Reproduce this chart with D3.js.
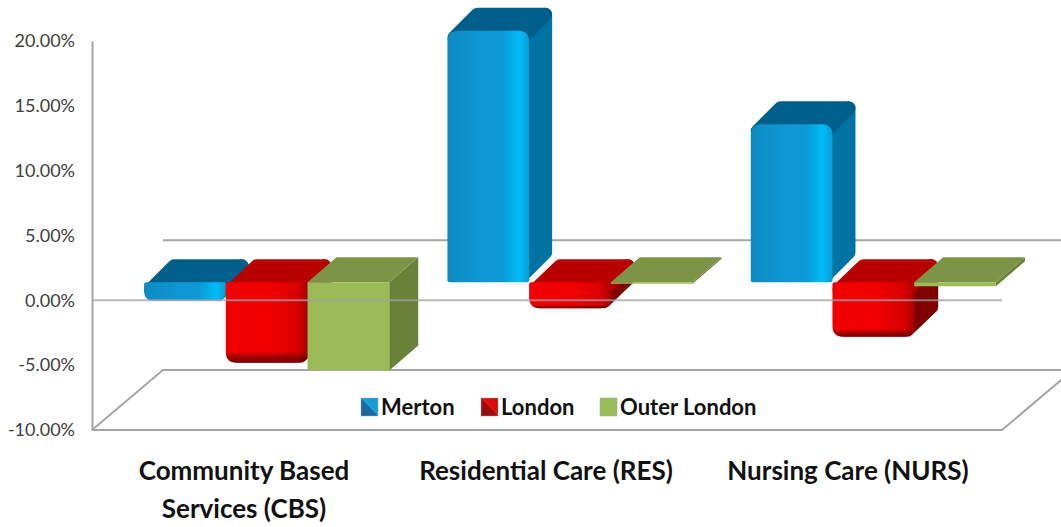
<!DOCTYPE html>
<meta charset="utf-8">
<title>Percentage change by care type</title>
<style>
  html, body { margin: 0; background: #fff; }
  svg { display: block; font-family: Lato, "Open Sans", sans-serif; }
</style>
<body>
<svg id="chart" width="1061" height="527"></svg>
<script src="https://d3js.org/d3.v7.min.js"></script>
<script>

var categories = ["Community Based Services (CBS)", "Residential Care (RES)", "Nursing Care (NURS)"];
var categoryLines = [["Community Based", "Services (CBS)"], ["Residential Care (RES)"], ["Nursing Care (NURS)"]];
var seriesNames = ["Merton", "London", "Outer London"];
var merton = [-1.4, 19.4, 12.2];
var london = [-6.2, -2.0, -4.2];
var outerLondon = [-6.8, -0.1, -0.3];
var tickValues = [20, 15, 10, 5, 0, -5, -10];

var seriesValues = [merton, london, outerLondon];

var svg = d3.select("#chart");

var left = 92, right = 1002, top0 = 41, bottom = 430;
// depth of the 3d box: floor goes this far back, bars sit part way in
var wallDx = 71, wallDy = -60, barOffX = 23, barOffY = -18;

var y = d3.scaleLinear().domain([-10, 20]).range([bottom, top0]);
var x0 = d3.scaleBand().domain(categories).range([left, right]);
var x1 = d3.scaleBand().domain(seriesNames).range([0, x0.bandwidth()]).paddingOuter(0.356);
// labels sit a touch tighter than the bars
var labelX = d3.scalePoint().domain(categories).range([244, 848]);

var styles = {
  "Merton": { r: 7, dx: 23, dy: -23, top: "#005f8a", side: "#0073a5", front: "gradBlue", shade: "shadeBlue" },
  "London": { r: 7, dx: 24, dy: -23, top: "#b80000", side: "#7e0000", front: "gradRed", shade: "shadeRed" },
  "Outer London": { r: 0, dx: 29, dy: -25, top: "#7d9345", side: "#6a8139", front: null, flat: "#9bbb59" }
};

// gradients
var defs = svg.append("defs");
function gradient(id, dir, stops) {
  var g = defs.append("linearGradient").attr("id", id)
    .attr("x1", dir[0]).attr("y1", dir[1]).attr("x2", dir[2]).attr("y2", dir[3]);
  stops.forEach(function(s) {
    g.append("stop").attr("offset", s[0]).attr("stop-color", s[1]).attr("stop-opacity", s[2] === undefined ? 1 : s[2]);
  });
}
gradient("gradBlue", [0, 0, 1, 0], [[0, "#0e8ac2"], [0.45, "#0d98d4"], [0.68, "#0c9ad8"], [0.88, "#00bdf7"], [1, "#0c9bd3"]]);
gradient("shadeBlue", [0, 0, 0, 1], [[0, "#ffffff", 0], [1, "#000000", 0]]);
gradient("gradRed", [0, 0, 1, 0], [[0, "#f00000"], [0.55, "#f20000"], [0.88, "#d80000"], [1, "#a80000"]]);
gradient("shadeRed", [0, 0, 0, 1], [[0, "#000000", 0], [0.86, "#000000", 0], [1, "#500000", 0.75]]);
gradient("legBlue", [0, 1, 1, 0], [[0, "#1c5f8f"], [0.49, "#1c6da3"], [0.51, "#1aa0dc"], [1, "#1592cc"]]);
gradient("legRed", [0, 1, 1, 0], [[0, "#8a0c0c"], [0.49, "#a00c0c"], [0.51, "#e01010"], [1, "#c80808"]]);

// back wall zero line and floor
var floorG = svg.append("g").attr("fill", "none").attr("stroke", "#a6a6a6").attr("stroke-width", 2);
floorG.append("line").attr("x1", left + wallDx).attr("x2", right + wallDx)
  .attr("y1", y(0) + wallDy).attr("y2", y(0) + wallDy);
floorG.append("path").attr("d", d3.line()([
  [left, bottom], [left + wallDx, bottom + wallDy], [right + wallDx, bottom + wallDy], [right, bottom], [left, bottom]
]));

// axis
var yAxis = d3.axisLeft(y).tickValues(tickValues).tickSize(0).tickPadding(17)
  .tickFormat(function(d) { return d.toFixed(2) + "%"; });
var axisG = svg.append("g").attr("transform", "translate(" + left + ",0)").call(yAxis);
axisG.select(".domain").attr("stroke", "#a6a6a6").attr("stroke-width", 2);
axisG.selectAll("text").attr("font-size", 18).attr("fill", "#404040").attr("font-family", "Lato");

function frontPath(x, y1, w, h, rt, rb) {
  var p = d3.path();
  rb = Math.min(rb, h / 2);
  rt = Math.min(rt, h / 2);
  p.moveTo(x + rt, y1);
  p.lineTo(x + w - rt, y1);
  p.quadraticCurveTo(x + w, y1, x + w, y1 + rt);
  p.lineTo(x + w, y1 + h - rb);
  p.quadraticCurveTo(x + w, y1 + h, x + w - rb, y1 + h);
  p.lineTo(x + rb, y1 + h);
  p.quadraticCurveTo(x, y1 + h, x, y1 + h - rb);
  p.lineTo(x, y1 + rt);
  p.quadraticCurveTo(x, y1, x + rt, y1);
  p.closePath();
  return p.toString();
}

function drawBar(g, catIndex, name, value) {
  var s = styles[name];
  var w = x1.bandwidth();
  var bx = x0(categories[catIndex]) + x1(name) + barOffX;
  var yA = y(Math.max(value, 0)) + barOffY;
  var yB = y(Math.min(value, 0)) + barOffY;
  var h = Math.max(yB - yA, 1);
  var r = s.r;
  var rTop = !r ? 0 : value > 0 ? 11 : 2;
  var rBot = !r ? 0 : value > 0 ? 2 : 11;

  var bar = g.append("g");

  // side, thick round stroke gives the soft corners
  bar.append("path")
    .attr("d", d3.line()([
      [bx + w - r, yA + r], [bx + w + s.dx - r, yA + s.dy + r],
      [bx + w + s.dx - r, yB + s.dy - r], [bx + w - r, yB - r]
    ]) + "Z")
    .attr("fill", s.side).attr("stroke", s.side)
    .attr("stroke-width", r * 2).attr("stroke-linejoin", "round");

  // top
  bar.append("path")
    .attr("d", d3.line()([
      [bx + r, yA + r], [bx + w - r, yA + r],
      [bx + w + s.dx - r, yA + s.dy + r], [bx + s.dx + r, yA + s.dy + r]
    ]) + "Z")
    .attr("fill", s.top).attr("stroke", s.top)
    .attr("stroke-width", r * 2).attr("stroke-linejoin", "round");

  // front
  var d = frontPath(bx, yA, w, h, rTop, rBot);
  bar.append("path").attr("d", d).attr("fill", s.front ? "url(#" + s.front + ")" : s.flat);
  if (s.shade) bar.append("path").attr("d", d).attr("fill", "url(#" + s.shade + ")");
}

var barsG = svg.append("g");
categories.forEach(function(c, i) {
  seriesNames.forEach(function(name, j) {
    drawBar(barsG, i, name, seriesValues[j][i]);
  });
});

// front zero line goes over the bars, a bit see through
svg.append("line").attr("x1", left).attr("x2", right)
  .attr("y1", y(0)).attr("y2", y(0))
  .attr("stroke", "#a0a0a0").attr("stroke-width", 2).attr("stroke-opacity", 0.75);

// category labels
var labels = svg.append("g").attr("text-anchor", "middle")
  .attr("font-size", 26).attr("font-weight", 700).attr("fill", "#111");
categories.forEach(function(c, i) {
  categoryLines[i].forEach(function(line, k) {
    labels.append("text")
      .attr("x", labelX(c))
      .attr("y", 480 + k * 38)
      .text(line);
  });
});

// legend
var legendSwatch = [361, 481, 600];
var legendFill = ["url(#legBlue)", "url(#legRed)", "#9bbb59"];
var legend = svg.append("g");
seriesNames.forEach(function(name, i) {
  legend.append("rect").attr("x", legendSwatch[i]).attr("y", 398).attr("width", 17).attr("height", 18)
    .attr("fill", legendFill[i]).attr("stroke", "#9aa7b0").attr("stroke-width", 0.5);
  legend.append("text").attr("x", legendSwatch[i] + 20).attr("y", 415)
    .attr("font-size", 22).attr("font-weight", 700).attr("fill", "#111").text(name);
});

</script>
</body>
